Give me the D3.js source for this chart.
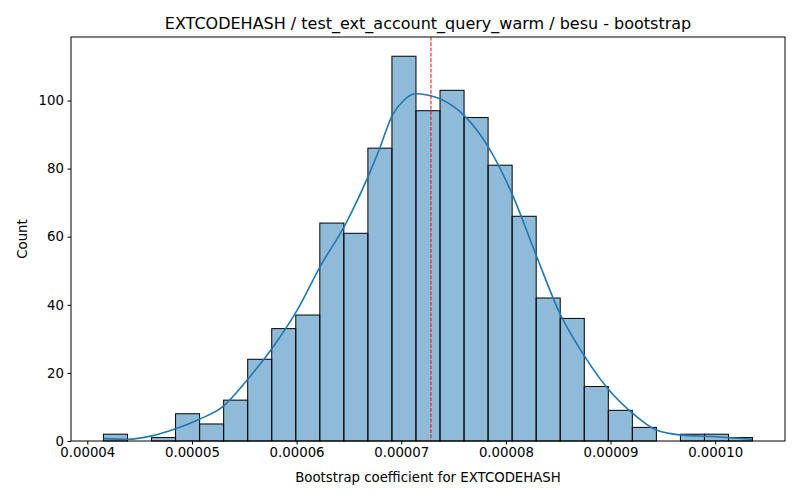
<!DOCTYPE html>
<html>
<head>
<meta charset="utf-8">
<script src="https://cdn.jsdelivr.net/npm/d3@7"></script>
<style>
  body { margin: 0; background: #fff; }
  text { font-family: "DejaVu Sans", sans-serif; }
</style>
</head>
<body>
<svg id="chart" width="800" height="500"></svg>
<script>
// Histogram: bin edges start, bin width, counts
const binStart = 4.1544e-5;
const binWidth = 2.2973e-6;
const counts = [2,0,1,8,5,12,24,33,37,64,61,86,113,97,103,95,81,66,42,36,16,9,4,0,2,2,1];

// KDE curve, scaled to counts
const kdeX = [4.155e-5,4.386e-5,4.615e-5,4.844e-5,5.072e-5,5.292e-5,5.530e-5,5.768e-5,6.007e-5,6.226e-5,6.464e-5,6.684e-5,6.790e-5,6.912e-5,7.022e-5,7.132e-5,7.250e-5,7.370e-5,7.608e-5,7.827e-5,8.056e-5,8.294e-5,8.514e-5,8.733e-5,8.971e-5,9.209e-5,9.438e-5,9.657e-5,9.972e-5,1.0354e-4];
const kdeY = [0.7,0.5,1.5,3.6,6.4,10,18,27.3,38.5,51.3,63.5,77.7,85.6,95.5,100,102,101.6,100.5,95.4,86.6,72.8,54.2,37.6,25.8,15.5,8.2,3.2,1.8,1.3,0.5];

const meanValue = 7.284e-5;

const xTicks = [0.00004,0.00005,0.00006,0.00007,0.00008,0.00009,0.00010];
const yTicks = [0,20,40,60,80,100];

const title = "EXTCODEHASH / test_ext_account_query_warm / besu - bootstrap";
const xLabel = "Bootstrap coefficient for EXTCODEHASH";
const yLabel = "Count";

const svg = d3.select("#chart");
const L = 71, R = 785, T = 37, B = 441;

const dataMin = binStart, dataMax = binStart + binWidth * counts.length;
const pad = (dataMax - dataMin) * 0.05;
const x = d3.scaleLinear().domain([dataMin - pad, dataMax + pad]).range([L, R]);
const y = d3.scaleLinear().domain([0, d3.max(counts) * 1.05]).range([B, T]);

const bins = counts.map((c, i) => ({x0: binStart + i * binWidth, x1: binStart + (i + 1) * binWidth, c}));

svg.append("g").selectAll("rect").data(bins.filter(d => d.c > 0)).join("rect")
  .attr("x", d => x(d.x0))
  .attr("y", d => y(d.c))
  .attr("width", d => x(d.x1) - x(d.x0))
  .attr("height", d => y(0) - y(d.c))
  .attr("fill", "#1f77b4").attr("fill-opacity", 0.5)
  .attr("stroke", "#000").attr("stroke-width", 1);

const line = d3.line().x((d, i) => x(kdeX[i])).y(d => y(d)).curve(d3.curveMonotoneX);
svg.append("path").datum(kdeY).attr("d", line)
  .attr("fill", "none").attr("stroke", "#1f77b4").attr("stroke-width", 1.6);

svg.append("line")
  .attr("x1", x(meanValue)).attr("x2", x(meanValue))
  .attr("y1", T).attr("y2", B)
  .attr("stroke", "red").attr("stroke-width", 1).attr("stroke-dasharray", "3.7,1.6");

// frame
svg.append("rect").attr("x", L).attr("y", T).attr("width", R - L).attr("height", B - T)
  .attr("fill", "none").attr("stroke", "#000").attr("stroke-width", 1);

const fmt = d3.format(".5f");
const xAxis = svg.append("g").attr("transform", `translate(0,${B})`)
  .call(d3.axisBottom(x).tickValues(xTicks).tickFormat(fmt).tickSize(3.5).tickPadding(3.5));
const yAxis = svg.append("g").attr("transform", `translate(${L},0)`)
  .call(d3.axisLeft(y).tickValues(yTicks).tickSize(3.5).tickPadding(3.5));
[xAxis, yAxis].forEach(a => {
  a.select(".domain").remove();
  a.selectAll("text").attr("font-size", "13.3px").attr("fill", "#000").attr("font-family", "DejaVu Sans");
  a.selectAll("line").attr("stroke", "#000");
});

svg.append("text").attr("x", (L + R) / 2).attr("y", 29).attr("text-anchor", "middle")
  .attr("font-size", "16px").text(title);
svg.append("text").attr("x", (L + R) / 2).attr("y", 482).attr("text-anchor", "middle")
  .attr("font-size", "13.3px").text(xLabel);
svg.append("text").attr("transform", `translate(27,${(T + B) / 2}) rotate(-90)`).attr("text-anchor", "middle")
  .attr("font-size", "13.3px").text(yLabel);
</script>
</body>
</html>
